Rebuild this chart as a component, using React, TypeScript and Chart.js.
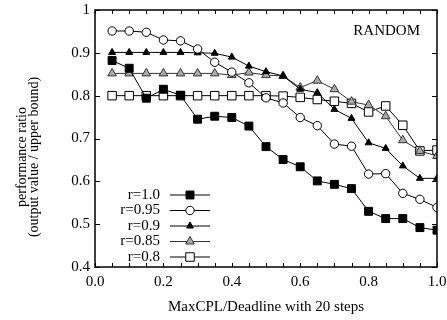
import React, { useEffect, useRef } from "react";
import { Chart, registerables } from "chart.js";

Chart.register(...registerables);

const xs = [0.05, 0.1, 0.15, 0.2, 0.25, 0.3, 0.35, 0.4, 0.45, 0.5, 0.55, 0.6, 0.65, 0.7, 0.75, 0.8, 0.85, 0.9, 0.95, 1.0];
const r10 = [0.882, 0.864, 0.794, 0.815, 0.801, 0.745, 0.752, 0.749, 0.729, 0.681, 0.651, 0.634, 0.601, 0.593, 0.583, 0.530, 0.513, 0.513, 0.492, 0.486];
const r095 = [0.951, 0.951, 0.948, 0.930, 0.928, 0.909, 0.878, 0.855, 0.830, 0.795, 0.783, 0.749, 0.730, 0.687, 0.682, 0.617, 0.618, 0.572, 0.558, 0.539];
const r09 = [0.901, 0.901, 0.901, 0.901, 0.901, 0.900, 0.899, 0.890, 0.869, 0.856, 0.846, 0.815, 0.807, 0.768, 0.747, 0.690, 0.677, 0.636, 0.607, 0.607];
const r085 = [0.852, 0.852, 0.852, 0.852, 0.852, 0.852, 0.852, 0.848, 0.854, 0.848, 0.846, 0.819, 0.835, 0.815, 0.786, 0.778, 0.752, 0.696, 0.671, 0.659];
const r08 = [0.800, 0.800, 0.800, 0.800, 0.800, 0.800, 0.800, 0.800, 0.800, 0.800, 0.799, 0.796, 0.791, 0.787, 0.782, 0.762, 0.776, 0.731, 0.671, 0.673];
const seriesNames = ["r=1.0", "r=0.95", "r=0.9", "r=0.85", "r=0.8"];
const xTickValues = [0, 0.2, 0.4, 0.6, 0.8, 1.0];
const yTickValues = [0.4, 0.5, 0.6, 0.7, 0.8, 0.9, 1.0];
const xTitle = "MaxCPL/Deadline with 20 steps";
const yTitle = ["performance ratio", "(output value / upper bound)"];
const annotation = "RANDOM";

const FONT = "'Liberation Serif', 'Times New Roman', serif";

type Style = { pointStyle: string; radius: number; fill: string; stroke: string; line: string };
const styles: Style[] = [
  { pointStyle: "rect", radius: 5.6, fill: "#000", stroke: "#000", line: "#000" },
  { pointStyle: "circle", radius: 4.2, fill: "#fff", stroke: "#000", line: "#000" },
  { pointStyle: "triangle", radius: 4, fill: "#000", stroke: "#000", line: "#000" },
  { pointStyle: "triangle", radius: 5, fill: "#aaa", stroke: "#333", line: "#333" },
  { pointStyle: "rect", radius: 6, fill: "#fff", stroke: "#000", line: "#000" },
];

function drawMarker(ctx: CanvasRenderingContext2D, s: Style, x: number, y: number) {
  ctx.save();
  ctx.beginPath();
  if (s.pointStyle === "rect") {
    const h = s.radius * Math.SQRT1_2;
    ctx.rect(x - h, y - h, 2 * h, 2 * h);
  } else if (s.pointStyle === "circle") {
    ctx.arc(x, y, s.radius, 0, Math.PI * 2);
  } else {
    const r = s.radius;
    ctx.moveTo(x, y - r);
    ctx.lineTo(x + r * Math.sin((2 * Math.PI) / 3), y - r * Math.cos((2 * Math.PI) / 3));
    ctx.lineTo(x + r * Math.sin((4 * Math.PI) / 3), y - r * Math.cos((4 * Math.PI) / 3));
    ctx.closePath();
  }
  ctx.fillStyle = s.fill;
  ctx.fill();
  ctx.strokeStyle = s.stroke;
  ctx.lineWidth = 1;
  ctx.stroke();
  ctx.restore();
}

const decorPlugin = {
  id: "decor",
  afterDraw(chart: any) {
    const ctx: CanvasRenderingContext2D = chart.ctx;
    const { left, right, top, bottom } = chart.chartArea;
    const xs_ = chart.scales.x;
    const ys_ = chart.scales.y;
    ctx.save();
    ctx.strokeStyle = "#000";
    ctx.lineWidth = 1.5;
    ctx.strokeRect(left, top, right - left, bottom - top);
    ctx.lineWidth = 1;
    ctx.beginPath();
    for (let i = 0; i <= 20; i++) {
      const px = Math.round(xs_.getPixelForValue(i * 0.05)) + 0.5;
      ctx.moveTo(px, bottom);
      ctx.lineTo(px, bottom - 4);
      ctx.moveTo(px, top);
      ctx.lineTo(px, top + 4);
    }
    for (const v of yTickValues) {
      const py = Math.round(ys_.getPixelForValue(v)) + 0.5;
      ctx.moveTo(left, py);
      ctx.lineTo(left + 5, py);
      ctx.moveTo(right, py);
      ctx.lineTo(right - 5, py);
    }
    ctx.stroke();

    // y title
    ctx.fillStyle = "#000";
    ctx.font = `14px ${FONT}`;
    ctx.textAlign = "center";
    ctx.textBaseline = "middle";
    yTitle.forEach((t, i) => {
      ctx.save();
      ctx.translate(22 + i * 12, 157);
      ctx.rotate(-Math.PI / 2);
      ctx.fillText(t, 0, 0);
      ctx.restore();
    });

    // annotation
    ctx.font = `15px ${FONT}`;
    ctx.textAlign = "right";
    ctx.fillText(annotation, 420, 31);

    // legend
    const lx = left + 65;
    seriesNames.forEach((name, i) => {
      const y = bottom - 72 + i * 15.5;
      ctx.fillStyle = "#000";
      ctx.textAlign = "right";
      ctx.fillText(name, lx, y);
      ctx.strokeStyle = styles[i].line;
      ctx.lineWidth = 1;
      ctx.beginPath();
      ctx.moveTo(lx + 10, y);
      ctx.lineTo(lx + 50, y);
      ctx.stroke();
      drawMarker(ctx, styles[i], lx + 30, y);
    });
    ctx.restore();
  },
};

export default function App() {
  const ref = useRef<HTMLCanvasElement | null>(null);
  useEffect(() => {
    if (!ref.current) return;
    const all = [r10, r095, r09, r085, r08];
    const chart = new Chart(ref.current, {
      type: "line",
      data: {
        datasets: all.map((vals, i) => ({
          label: seriesNames[i],
          data: vals.map((v, j) => ({ x: xs[j], y: v })),
          borderColor: styles[i].line,
          borderWidth: 1,
          pointStyle: styles[i].pointStyle as any,
          pointRadius: styles[i].radius,
          pointBackgroundColor: styles[i].fill,
          pointBorderColor: styles[i].stroke,
          pointBorderWidth: 1,
          tension: 0,
          fill: false,
        })),
      },
      options: {
        animation: false,
        responsive: false,
        devicePixelRatio: 1,
        layout: { padding: { left: 0, right: 10, top: 10, bottom: 0 } },
        plugins: { legend: { display: false }, tooltip: { enabled: false } },
        scales: {
          x: {
            type: "linear",
            min: 0,
            max: 1,
            afterFit: (s: any) => { s.height = 53; s.paddingLeft = 0; s.paddingRight = 0; },
            afterBuildTicks: (s: any) => { s.ticks = xTickValues.map((v) => ({ value: v })); },
            ticks: {
              color: "#000",
              font: { family: FONT, size: 15 },
              padding: 6,
              maxRotation: 0,
              callback: (v: any) => Number(v).toFixed(1),
            },
            grid: { display: false, drawTicks: false },
            border: { display: false },
            title: {
              display: true,
              text: xTitle,
              color: "#000",
              font: { family: FONT, size: 15 },
              padding: { top: 0, bottom: 4 },
            },
          },
          y: {
            type: "linear",
            min: 0.4,
            max: 1,
            afterFit: (s: any) => { s.width = 95; s.paddingTop = 0; s.paddingBottom = 0; },
            afterBuildTicks: (s: any) => { s.ticks = yTickValues.map((v) => ({ value: v })); },
            ticks: {
              color: "#000",
              font: { family: FONT, size: 15 },
              padding: 5,
              callback: (v: any) => (Number(v) === 1 ? "1" : Number(v).toFixed(1)),
            },
            grid: { display: false, drawTicks: false },
            border: { display: false },
          },
        },
      },
      plugins: [decorPlugin],
    });
    return () => chart.destroy();
  }, []);
  return (
    <div style={{ position: "absolute", left: 0, top: 0, width: 447, height: 320, background: "#fff" }}>
      <canvas ref={ref} width={447} height={320} />
    </div>
  );
}
